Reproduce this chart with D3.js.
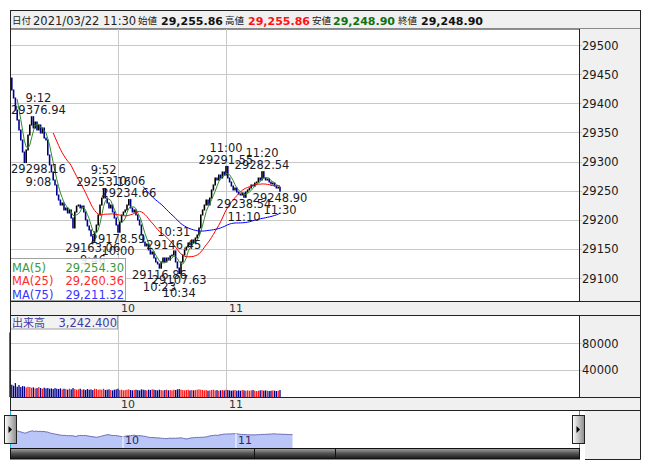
<!DOCTYPE html>
<html><head><meta charset="utf-8">
<script src="https://cdn.jsdelivr.net/npm/d3@7"></script>
<style>
body{margin:0;background:#fff}
svg{display:block}
text{font-family:"DejaVu Sans",Verdana,sans-serif}
.cjk{font-family:"Noto Sans CJK JP","DejaVu Sans",sans-serif}
</style>
</head><body>
<svg id="c" width="653" height="470"></svg>
<script>
// ---------------- data ----------------
const firstOpen = 29471;
const closes = [
29443.3,29422.7,29409.0,29388.4,29371.3,29354.1,29336.9,29316.3,29298.16,29319.8,
29345.5,29362.7,29376.94,29357.5,29367.8,29354.1,29362.7,29348.9,29357.5,29340.3,
29336.9,29311.2,29294.0,29282.0,29268.2,29259.7,29242.5,29233.9,29225.3,29228.8,
29216.8,29220.2,29211.6,29216.8,29203.0,29185.9,29213.3,29223.6,29225.3,29220.2,
29223.6,29213.3,29199.6,29189.3,29182.4,29172.1,29163.06,29179.0,29191.0,29208.2,
29225.3,29237.3,29253.16,29237.3,29228.8,29220.2,29225.3,29213.3,29203.0,29191.0,
29178.59,29196.1,29208.2,29213.3,29216.8,29225.3,29234.66,29220.2,29213.3,29216.8,
29208.2,29199.6,29191.0,29173.8,29161.8,29155.0,29158.4,29148.1,29141.2,29144.7,
29134.4,29127.5,29124.1,29116.86,29127.5,29134.4,29127.5,29134.4,29130.9,29137.8,
29139.5,29146.45,29127.5,29117.2,29107.63,29127.5,29139.5,29148.1,29153.2,29160.1,
29156.7,29165.3,29160.1,29168.7,29173.8,29185.9,29208.2,29216.8,29225.3,29233.9,
29225.3,29237.3,29251.1,29259.7,29271.7,29268.2,29276.8,29271.7,29282.0,29276.8,
29291.55,29271.7,29264.8,29257.9,29251.1,29254.5,29247.6,29244.2,29242.5,29245.9,
29238.54,29247.6,29251.1,29254.5,29259.7,29257.9,29263.1,29264.8,29271.7,29268.2,
29282.54,29271.7,29268.2,29269.9,29264.8,29261.4,29263.1,29257.9,29254.5,29255.86,
29248.90];
const volumes = [
96000,
17000,15500,19500,14000,16500,13500,15000,14500,13000,14000,
13500,12500,13000,11500,12000,13500,12000,11000,12500,11500,
12000,11000,11500,10500,12000,11000,10500,11500,10000,11000,
10500,9500,11000,10000,12000,10500,9500,10000,11000,9500,
10000,9000,10500,9500,10000,9000,11000,10500,9500,10000,
9500,11000,9000,9500,10000,9000,8500,9500,10000,11000,
9000,9500,8500,9000,9500,10000,9000,8500,9000,9500,
9000,8500,10000,9500,9000,8500,9500,9000,10000,9500,
9000,8500,9500,9000,8500,9000,9500,8500,9000,8500,
9500,9000,10000,10500,9500,9000,8500,9000,9500,8500,
9000,8500,9000,9500,10000,9500,9000,8500,9000,8000,
8500,9000,9500,8500,9000,8000,8500,9000,8500,9500,
9000,8500,8000,8500,9000,8000,8500,8000,9000,8500,
8000,8500,8000,8500,9000,8000,7500,8000,8500,9000,
8000,8500,8000,7500,8000,8500,8000,7500,8000,9000];
const priceTicks = [29100,29150,29200,29250,29300,29350,29400,29450,29500];
const volumeTicks = [40000,80000];
const hourTicks = [60,120];          // minutes after 9:00
const hourLabels = ["10","11"];
const maPeriods = [5,25,75];
const maLabels = ["MA(5)","MA(25)","MA(75)"];
const maValues = ["29,254.30","29,260.36","29,211.32"];
const headerItems = [
  {t:"日付",cjk:true},{t:"2021/03/22"},{t:"11:30"},
  {t:"始値",cjk:true},{t:"29,255.86",b:true,c:"#111"},
  {t:"高値",cjk:true},{t:"29,255.86",b:true,c:"#ff1010"},
  {t:"安値",cjk:true},{t:"29,248.90",b:true,c:"#107010"},
  {t:"終値",cjk:true},{t:"29,248.90",b:true,c:"#111"}];
const headerX = [12,33,103,138,161,225,248,312,333,398,421];
const volumeLabel = "出来高", volumeValue = "3,242.400";
const annotations = [
 {i:12,type:"high",time:"9:12",value:"29376.94"},
 {i:8,type:"low",time:"9:08",value:"29298.16"},
 {i:52,type:"high",time:"9:52",value:"29253.16"},
 {i:66,type:"high",time:"10:06",value:"29234.66"},
 {i:46,type:"low",time:"9:46",value:"29163.06"},
 {i:60,type:"low",time:"10:00",value:"29178.59"},
 {i:83,type:"low",time:"10:23",value:"29116.86"},
 {i:91,type:"high",time:"10:31",value:"29146.45"},
 {i:94,type:"low",time:"10:34",value:"29107.63"},
 {i:120,type:"high",time:"11:00",value:"29291.55"},
 {i:140,type:"high",time:"11:20",value:"29282.54"},
 {i:130,type:"low",time:"11:10",value:"29238.54"},
 {i:150,type:"low",time:"11:30",value:"29248.90"}];

// ---------------- layout ----------------
const L=10, R=579, RR=640;
const P={top:29,bottom:301}, B1={top:301,bottom:315}, V={top:315,bottom:397}, B2={top:397,bottom:410}, N={top:410,bottom:448};
const svg=d3.select("#c");
const x=d3.scaleLinear().domain([0,150]).range([10,280]);
const y=d3.scaleLinear().domain([29100,29500]).range([278,45]);
const yv=d3.scaleLinear().domain([0,80000]).range([396,343]);
const xn=d3.scaleLinear().domain([0,150]).range([10,292.5]);
const yn=d3.scaleLinear().domain([29107,29471]).range([439,428]);
const opens=closes.map((c,i)=>i===0?firstOpen:closes[i-1]);
const grid="#c8c8c8", panel="#f0f0f0";

const defs=svg.append("defs");
defs.append("clipPath").attr("id","cp").append("rect").attr("x",L).attr("y",P.top).attr("width",R-L).attr("height",P.bottom-P.top);
const gb=defs.append("linearGradient").attr("id","btn").attr("x1",0).attr("x2",1).attr("y1",0).attr("y2",0);
gb.append("stop").attr("offset","0%").attr("stop-color","#ffffff");
gb.append("stop").attr("offset","100%").attr("stop-color","#8a8a8a");
const gd=defs.append("linearGradient").attr("id","bar").attr("x1",0).attr("x2",0).attr("y1",0).attr("y2",1);
gd.append("stop").attr("offset","0%").attr("stop-color","#a8a8a8");
gd.append("stop").attr("offset","45%").attr("stop-color","#555");
gd.append("stop").attr("offset","100%").attr("stop-color","#151515");

// panels backgrounds
svg.append("rect").attr("x",L+0.5).attr("y",10.5).attr("width",RR-L).attr("height",P.top-10.5).attr("fill",panel).attr("stroke","#222");
svg.append("rect").attr("x",R).attr("y",P.top).attr("width",RR-R).attr("height",P.bottom-P.top).attr("fill",panel);
svg.append("rect").attr("x",R).attr("y",V.top).attr("width",RR-R).attr("height",V.bottom-V.top).attr("fill",panel);
svg.append("rect").attr("x",L).attr("y",B1.top).attr("width",RR-L).attr("height",B1.bottom-B1.top).attr("fill",panel);
svg.append("rect").attr("x",L).attr("y",B2.top).attr("width",RR-L).attr("height",B2.bottom-B2.top).attr("fill",panel);
svg.append("rect").attr("x",585).attr("y",N.top).attr("width",RR-585).attr("height",459-N.top).attr("fill",panel);

// header
const hg=svg.append("g");
headerItems.forEach((h,k)=>{
  const t=hg.append("text").attr("x",headerX[k]).attr("y",24.5).text(h.t)
    .attr("fill",h.c||"#222").attr("font-size",h.cjk?9.5:(h.b?11:11.5)).attr("font-weight",h.b?"bold":"normal");
  if(h.cjk) t.attr("class","cjk").attr("y",23.5);
});

// grids price
const gp=svg.append("g");
priceTicks.forEach(v=>{
  gp.append("line").attr("x1",L).attr("x2",R+3).attr("y1",Math.round(y(v))+0.5).attr("y2",Math.round(y(v))+0.5).attr("stroke",grid);
  gp.append("text").attr("x",582).attr("y",y(v)+4.5).attr("font-size",11.5).attr("fill","#1a1a1a").text(v);
});
hourTicks.forEach(m=>{
  gp.append("line").attr("x1",Math.round(x(m))+0.5).attr("x2",Math.round(x(m))+0.5).attr("y1",P.top).attr("y2",P.bottom).attr("stroke",grid);
  gp.append("line").attr("x1",Math.round(x(m))+0.5).attr("x2",Math.round(x(m))+0.5).attr("y1",V.top).attr("y2",V.bottom).attr("stroke",grid);
});
volumeTicks.forEach(v=>{
  gp.append("line").attr("x1",L).attr("x2",R+3).attr("y1",Math.round(yv(v))+0.5).attr("y2",Math.round(yv(v))+0.5).attr("stroke",grid);
  gp.append("text").attr("x",582).attr("y",yv(v)+4.5).attr("font-size",11.5).attr("fill","#1a1a1a").text(v);
});

// candles
const pc=svg.append("g").attr("clip-path","url(#cp)");
pc.selectAll("rect.c").data(closes).join("rect").attr("class","c")
  .attr("x",(d,i)=>x(i)-0.8).attr("width",1.6)
  .attr("y",(d,i)=>y(Math.max(d,opens[i]))-0.5)
  .attr("height",(d,i)=>Math.max(1.5,Math.abs(y(d)-y(opens[i]))+1))
  .attr("fill",(d,i)=>d>=opens[i]?"#000":"#000090");

// moving averages
const maColors=["#2e8b2e","#ff0000","#0000ff"];
maPeriods.forEach((p,k)=>{
  const pts=[];
  for(let i=p-1;i<closes.length;i++){pts.push([i,d3.mean(closes.slice(i-p+1,i+1))]);}
  pc.append("path").datum(pts).attr("fill","none").attr("stroke",maColors[k]).attr("stroke-width",1)
    .attr("d",d3.line().x(d=>x(d[0])).y(d=>y(d[1])));
});

// annotations
const ag=svg.append("g").attr("clip-path","url(#cp)");
annotations.forEach(a=>{
  const px=x(a.i), py=y(closes[a.i]);
  const vt=ag.append("text").attr("font-size",11.5).attr("fill","#1a1a2a").attr("text-anchor","middle").text(a.value);
  const w=vt.node().getComputedTextLength();
  const cx=Math.max(px, L+1+w/2);
  const s=a.type==="high"?-1:1;
  vt.attr("x",cx).attr("y",py+s*6.5+4.2);
  ag.append("text").attr("font-size",11.5).attr("fill","#1a1a2a").attr("text-anchor","middle")
    .attr("x",cx).attr("y",py+s*19+4.2).text(a.time);
});

// MA legend
const lg=svg.append("g");
lg.append("rect").attr("x",L+0.5).attr("y",258.5).attr("width",115).attr("height",42).attr("fill","#fff").attr("fill-opacity",0.88).attr("stroke","#a0a0a0");
const legCols=["#3a9a3a","#ff2a2a","#3535ff"];
maLabels.forEach((m,k)=>{
  lg.append("text").attr("x",12).attr("y",271.5+k*13.5).attr("font-size",11.5).attr("fill",legCols[k]).text(m);
  lg.append("text").attr("x",124).attr("y",271.5+k*13.5).attr("font-size",11.5).attr("fill",legCols[k]).attr("text-anchor","end").text(maValues[k]);
});

// band labels
[B1,B2].forEach(b=>{
  hourTicks.forEach((m,k)=>{
    svg.append("text").attr("x",x(m)+3).attr("y",b.top+10.5).attr("font-size",11).attr("fill","#333").text(hourLabels[k]);
  });
});

// volume bars
svg.append("g").selectAll("rect").data(volumes).join("rect")
  .attr("x",(d,i)=>x(i)-0.65).attr("width",1.3)
  .attr("y",d=>yv(d)).attr("height",d=>V.bottom-yv(d))
  .attr("fill",(d,i)=>closes[i]>=opens[i]?"#ff1a1a":"#00008b");
const vg=svg.append("g");
vg.append("rect").attr("x",L+0.5).attr("y",V.top+0.5).attr("width",107).attr("height",13.5).attr("fill","#f2f2f2").attr("stroke","#a0a0a0");
vg.append("text").attr("class","cjk").attr("x",12).attr("y",V.top+11.5).attr("font-size",11).attr("fill","#3c3ca8").text(volumeLabel);
vg.append("text").attr("x",117).attr("y",V.top+11.5).attr("font-size",11.5).attr("fill","#3c3ca8").attr("text-anchor","end").text(volumeValue);

// navigator
const ng=svg.append("g");
ng.append("path").datum(closes).attr("fill","#bac6f7")
  .attr("d",d3.area().x((d,i)=>xn(i)).y0(N.bottom).y1(d=>yn(d)));
ng.append("path").datum(closes).attr("fill","none").attr("stroke","#6c6cb8").attr("stroke-width",1)
  .attr("d",d3.line().x((d,i)=>xn(i)).y(d=>yn(d)));
hourTicks.forEach((m,k)=>{
  ng.append("line").attr("x1",xn(m)).attr("x2",xn(m)).attr("y1",428).attr("y2",N.bottom).attr("stroke","#fff").attr("stroke-width",1);
  ng.append("text").attr("x",xn(m)+2).attr("y",444).attr("font-size",11).attr("fill","#2a2a60").text(hourLabels[k]);
});
ng.append("line").attr("x1",L+0.5).attr("x2",L+0.5).attr("y1",N.top).attr("y2",N.bottom).attr("stroke","#1ab0e0");
ng.append("line").attr("x1",R+0.5).attr("x2",R+0.5).attr("y1",N.top).attr("y2",N.bottom).attr("stroke","#1ab0e0");
ng.append("rect").attr("x",L+0.5).attr("y",448.5).attr("width",R-L).attr("height",10.5).attr("fill","url(#bar)").attr("stroke","#111");
[254.5,335.5].forEach(d=>ng.append("line").attr("x1",d).attr("x2",d).attr("y1",448.5).attr("y2",459).attr("stroke","#111"));
[4.5,572.5].forEach(bx=>{
  ng.append("rect").attr("x",bx).attr("y",415.5).attr("width",12).attr("height",28).attr("fill","url(#btn)").attr("stroke","#222");
  ng.append("path").attr("d",`M${bx+4},${426} L${bx+7.5},${429.5} L${bx+4},${433} Z`).attr("fill","#000");
});

// borders
const bd=svg.append("g").attr("fill","none").attr("stroke","#222");
bd.append("line").attr("x1",L+0.5).attr("x2",L+0.5).attr("y1",P.top).attr("y2",N.top);
bd.append("line").attr("x1",RR+0.5).attr("x2",RR+0.5).attr("y1",P.top).attr("y2",459.5);
bd.append("line").attr("x1",R+0.5).attr("x2",R+0.5).attr("y1",P.top).attr("y2",B1.top);
bd.append("line").attr("x1",R+0.5).attr("x2",R+0.5).attr("y1",V.top).attr("y2",V.bottom);
[B1.top,B1.bottom,V.bottom,B2.bottom].forEach(v=>bd.append("line").attr("x1",L).attr("x2",RR+0.5).attr("y1",v+0.5).attr("y2",v+0.5));
bd.append("line").attr("x1",585).attr("x2",RR+0.5).attr("y1",459.5).attr("y2",459.5);
</script>
</body></html>
